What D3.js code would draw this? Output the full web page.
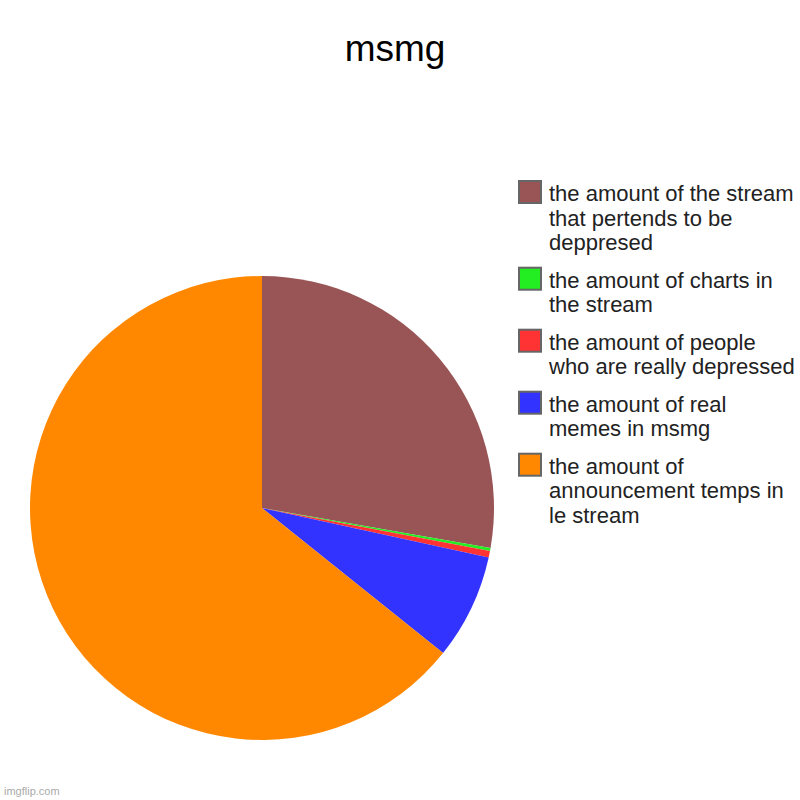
<!DOCTYPE html>
<html>
<head>
<meta charset="utf-8">
<script src="https://cdn.jsdelivr.net/npm/d3@7"></script>
<style>
  body { margin: 0; background: #fff; }
  svg { display: block; font-family: Arial, "Liberation Sans", sans-serif; }
</style>
</head>
<body>
<div id="chart"></div>
<script>
// slices in drawing order (clockwise from 12 o'clock)
const labels = [
  "the amount of the stream\nthat pertends to be\ndeppresed",
  "the amount of charts in\nthe stream",
  "the amount of people\nwho are really depressed",
  "the amount of real\nmemes in msmg",
  "the amount of\nannouncement temps in\nle stream"
];
const values = [27.75, 0.22, 0.45, 7.33, 64.25];
const colors = ["#995555", "#22ee22", "#ff3333", "#3333ff", "#ff8800"];

const width = 800, height = 800;
const cx = 262, cy = 508, radius = 232;

const svg = d3.select("#chart")
  .append("svg")
    .attr("width", width)
    .attr("height", height);

// Title
svg.append("text")
  .attr("x", 395)
  .attr("y", 61)
  .attr("text-anchor", "middle")
  .style("font-size", "37px")
  .style("fill", "#000")
  .text("msmg");

// Pie
const pie = d3.pie().sort(null).value(d => d.value);
const arc = d3.arc().innerRadius(0).outerRadius(radius);
const slices = pie(values.map((v, i) => ({value: v, color: colors[i], label: labels[i]})));

svg.append("g")
    .attr("transform", `translate(${cx},${cy})`)
  .selectAll("path")
  .data(slices)
  .join("path")
    .attr("d", arc)
    .attr("fill", d => d.data.color);

// Legend (top item is the first slice)
const lineH = 24.7, gap = 12.6;
const legend = svg.append("g").attr("transform", "translate(519,181)");
let yPos = 0;
slices.forEach(d => {
  const lines = d.data.label.split("\n");
  const item = legend.append("g").attr("transform", `translate(0,${yPos})`);
  item.append("rect")
    .attr("x", 0)
    .attr("y", 0)
    .attr("width", 22)
    .attr("height", 22)
    .attr("fill", d.data.color)
    .attr("stroke", "#666")
    .attr("stroke-width", 2);
  const txt = item.append("text")
    .attr("x", 30)
    .attr("y", 20)
    .style("font-size", "22px")
    .style("fill", "#222");
  lines.forEach((l, i) => {
    txt.append("tspan")
      .attr("x", 30)
      .attr("dy", i === 0 ? 0 : lineH)
      .text(l);
  });
  yPos += lines.length * lineH + gap;
});

// Watermark
svg.append("text")
  .attr("x", 4)
  .attr("y", 795)
  .style("font-size", "11px")
  .style("fill", "#aaa")
  .text("imgflip.com");
</script>
</body>
</html>
